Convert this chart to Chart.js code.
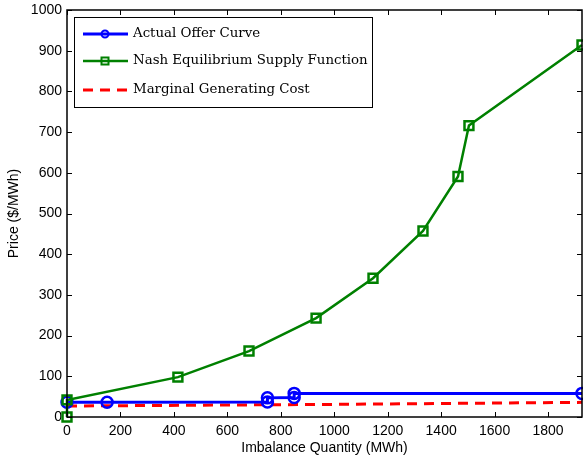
<!DOCTYPE html>
<html lang="en">
<head>
  <meta charset="UTF-8">
  <title>Imbalance Quantity vs Price</title>
  <script src="https://cdn.jsdelivr.net/npm/chart.js"></script>
  <style>
    html, body {
      margin: 0;
      overflow: hidden;
      background-color: #FFFFFF;
    }
    .chart-container {
      position: relative;
      width: 583px;
      height: 458px;
    }
  </style>
</head>
<body>
  <div class="chart-container">
    <canvas id="priceChart"></canvas>
  </div>

  <script>
    // Actual offer curve (stepped bid)
    const offerQty = [0, 150, 750, 750, 850, 850, 1927];
    const offerPrice = [36, 36, 37, 47, 48, 58, 58];

    // Nash equilibrium supply function
    const nashQty = [0, 0, 415, 681, 932, 1145, 1332, 1463, 1504, 1927];
    const nashPrice = [0, 42, 98, 162, 243, 341, 457, 591, 716, 914];

    // Marginal generating cost
    const costQty = [0, 1000, 1927];
    const costPrice = [27, 31, 36];

    const xTicks = [0, 200, 400, 600, 800, 1000, 1200, 1400, 1600, 1800];
    const yTicks = [0, 100, 200, 300, 400, 500, 600, 700, 800, 900, 1000];

    const labels = ["Actual Offer Curve", "Nash Equilibrium Supply Function", "Marginal Generating Cost"];

    const toPoints = (xs, ys) => xs.map((x, i) => ({ x: x, y: ys[i] }));

    // Boite, graduations vers l'interieur et legende style MATLAB
    const matlabFrame = {
      id: "matlabFrame",
      afterDraw(chart) {
        const ctx = chart.ctx;
        const a = chart.chartArea;
        const xs = chart.scales.x, ys = chart.scales.y;
        ctx.save();
        ctx.strokeStyle = "#000";
        ctx.lineWidth = 1;
        ctx.beginPath();
        xTicks.forEach(v => {
          const p = Math.round(xs.getPixelForValue(v)) + 0.5;
          ctx.moveTo(p, a.bottom); ctx.lineTo(p, a.bottom - 5);
          ctx.moveTo(p, a.top); ctx.lineTo(p, a.top + 5);
        });
        yTicks.forEach(v => {
          const p = Math.round(ys.getPixelForValue(v)) + 0.5;
          ctx.moveTo(a.left, p); ctx.lineTo(a.left + 5, p);
          ctx.moveTo(a.right, p); ctx.lineTo(a.right - 5, p);
        });
        ctx.stroke();
        ctx.lineWidth = 1.5;
        ctx.strokeRect(a.left, a.top, a.right - a.left, a.bottom - a.top);

        // legende
        const bx = 74, by = 17, bw = 298, bh = 90;
        ctx.fillStyle = "#fff";
        ctx.fillRect(bx, by, bw, bh);
        ctx.lineWidth = 1;
        ctx.strokeRect(bx + 0.5, by + 0.5, bw, bh);
        let size = 16;
        ctx.font = size + "px 'DejaVu Serif'";
        const w = ctx.measureText(labels[1]).width;
        size = size * 235 / w;
        ctx.font = size + "px 'DejaVu Serif'";
        const rows = [34, 61, 90];
        chart.data.datasets.forEach((ds, i) => {
          const y = rows[i];
          ctx.strokeStyle = ds.borderColor;
          ctx.lineWidth = ds.borderWidth;
          ctx.setLineDash(ds.borderDash || []);
          ctx.beginPath();
          ctx.moveTo(83, y); ctx.lineTo(128, y);
          ctx.stroke();
          ctx.setLineDash([]);
          ctx.lineWidth = 2;
          if (ds.pointStyle === "circle") {
            ctx.beginPath();
            ctx.arc(105, y, 3.5, 0, Math.PI * 2);
            ctx.stroke();
          } else if (ds.pointStyle === "rect") {
            ctx.strokeRect(101.5, y - 3.5, 7, 7);
          }
          ctx.fillStyle = "#000";
          ctx.textBaseline = "middle";
          ctx.textAlign = "left";
          ctx.fillText(ds.label, 133, y);
        });
        ctx.restore();
      }
    };

    const ctx = document.getElementById("priceChart").getContext("2d");
    Chart.defaults.color = "#000";
    Chart.defaults.font.family = "'Liberation Sans', Arial, sans-serif";

    new Chart(ctx, {
      type: "line",
      data: {
        datasets: [
          {
            label: labels[0],
            data: toPoints(offerQty, offerPrice),
            borderColor: "#0000FF",
            backgroundColor: "rgba(0,0,0,0)",
            borderWidth: 3,
            pointStyle: "circle",
            pointRadius: 5.5,
            pointBorderWidth: 2.5,
            pointBorderColor: "#0000FF",
            pointBackgroundColor: "rgba(0,0,0,0)",
            clip: false,
            order: 2
          },
          {
            label: labels[1],
            data: toPoints(nashQty, nashPrice),
            borderColor: "#008000",
            backgroundColor: "rgba(0,0,0,0)",
            borderWidth: 2.5,
            pointStyle: "rect",
            pointRadius: 6.3,
            pointBorderWidth: 2.5,
            pointBorderColor: "#008000",
            pointBackgroundColor: "rgba(0,0,0,0)",
            clip: false,
            order: 1
          },
          {
            label: labels[2],
            data: toPoints(costQty, costPrice),
            borderColor: "#FF0000",
            backgroundColor: "rgba(0,0,0,0)",
            borderWidth: 3,
            borderDash: [10, 7],
            pointRadius: 0,
            clip: false,
            order: 3
          }
        ]
      },
      options: {
        responsive: true,
        maintainAspectRatio: false,
        animation: false,
        layout: { autoPadding: false, padding: { top: 10, right: 1, left: 0, bottom: 0 } },
        elements: { line: { tension: 0 } },
        plugins: {
          legend: { display: false },
          tooltip: { enabled: false }
        },
        scales: {
          x: {
            type: "linear",
            min: 0,
            max: 1927,
            afterFit: (scale) => {
              scale.height = 41;
              scale.paddingLeft = 0;
              scale.paddingRight = 0;
            },
            afterBuildTicks: (scale) => { scale.ticks = xTicks.map(v => ({ value: v })); },
            grid: { display: false, drawTicks: false },
            border: { display: false },
            ticks: { padding: 6, font: { size: 14 }, callback: (v) => String(v) },
            title: {
              display: true,
              text: "Imbalance Quantity (MWh)",
              font: { size: 14 },
              padding: { top: 0, bottom: 1 }
            }
          },
          y: {
            min: 0,
            max: 1000,
            afterFit: (scale) => {
              scale.width = 67;
              scale.paddingTop = 0;
              scale.paddingBottom = 0;
            },
            afterBuildTicks: (scale) => { scale.ticks = yTicks.map(v => ({ value: v })); },
            grid: { display: false, drawTicks: false },
            border: { display: false },
            ticks: { padding: 5, font: { size: 14 }, callback: (v) => String(v) },
            title: {
              display: true,
              text: "Price ($/MWh)",
              font: { size: 14 },
              padding: { top: 6, bottom: 0 }
            }
          }
        }
      },
      plugins: [matlabFrame]
    });
  </script>
</body>
</html>
